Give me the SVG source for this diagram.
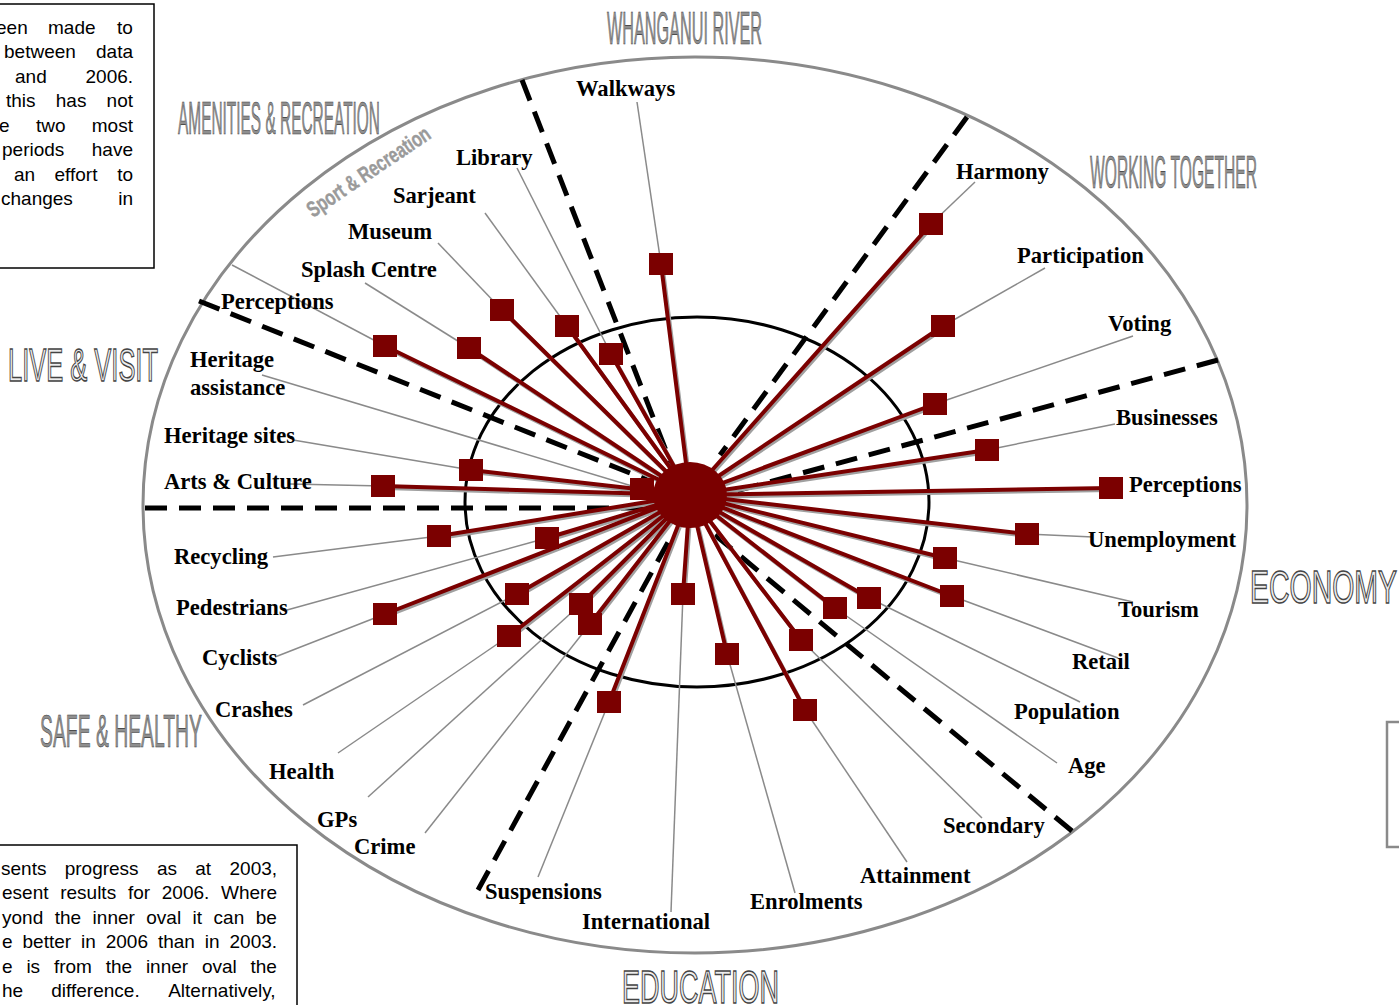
<svg xmlns="http://www.w3.org/2000/svg" width="1399" height="1005" viewBox="0 0 1399 1005">
<style>
.lbl{font-family:"Liberation Serif","Times New Roman",serif;font-weight:bold;font-size:22.6px;fill:#000}
.lead{stroke:#8a8a8a;stroke-width:1.5;fill:none}
.spoke{stroke:#7b0000;stroke-width:4}
.shadow{stroke:#a0a0a0;stroke-width:4}
.sq{fill:#7b0000}
.dash{stroke:#000;stroke-width:5;stroke-dasharray:22 12;fill:none}
.ttl{font-family:"Liberation Sans",Arial,sans-serif;font-size:47px;fill:#8f8f8f;stroke:#333;stroke-width:0.6}
.ttlo{font-family:"Liberation Sans",Arial,sans-serif;font-size:47px;fill:#eee;stroke:#444;stroke-width:1.5}
.body{font-family:"Liberation Sans",Arial,sans-serif;font-size:19px;fill:#000}
</style>
<rect width="1399" height="1005" fill="#fff"/>
<g id="frame">
<ellipse cx="695" cy="505" rx="552" ry="448" fill="none" stroke="#8a8a8a" stroke-width="3"/>
<ellipse cx="697" cy="502" rx="232" ry="185" fill="none" stroke="#000" stroke-width="3"/>
</g>
<g id="notes">
<rect x="-5" y="4" width="159" height="264" fill="none" stroke="#000" stroke-width="1.5"/>
<text class="body"><tspan x="-4" y="34">een</tspan><tspan x="48" y="34">made</tspan><tspan x="117" y="34">to</tspan></text>
<text class="body"><tspan x="4" y="58">between</tspan><tspan x="96" y="58">data</tspan></text>
<text class="body"><tspan x="15" y="83">and</tspan><tspan x="85.5" y="83">2006.</tspan></text>
<text class="body"><tspan x="6" y="107">this</tspan><tspan x="55.8" y="107">has</tspan><tspan x="106.6" y="107">not</tspan></text>
<text class="body"><tspan x="-1" y="132">e</tspan><tspan x="35.9" y="132">two</tspan><tspan x="91.8" y="132">most</tspan></text>
<text class="body"><tspan x="2" y="156">periods</tspan><tspan x="91.8" y="156">have</tspan></text>
<text class="body"><tspan x="14" y="181">an</tspan><tspan x="54.5" y="181">effort</tspan><tspan x="117.2" y="181">to</tspan></text>
<text class="body"><tspan x="1" y="205">changes</tspan><tspan x="118.2" y="205">in</tspan></text>
<rect x="-5" y="845" width="302" height="170" fill="none" stroke="#000" stroke-width="1.5"/>
<text class="body"><tspan x="1" y="875">sents</tspan><tspan x="64.7" y="875">progress</tspan><tspan x="156.9" y="875">as</tspan><tspan x="195.3" y="875">at</tspan><tspan x="229.5" y="875">2003,</tspan></text>
<text class="body"><tspan x="2" y="899">esent</tspan><tspan x="60.2" y="899">results</tspan><tspan x="127.9" y="899">for</tspan><tspan x="161.8" y="899">2006.</tspan><tspan x="221" y="899">Where</tspan></text>
<text class="body"><tspan x="2" y="924">yond</tspan><tspan x="54.7" y="924">the</tspan><tspan x="92.6" y="924">inner</tspan><tspan x="146.3" y="924">oval</tspan><tspan x="192.6" y="924">it</tspan><tspan x="213.6" y="924">can</tspan><tspan x="255.7" y="924">be</tspan></text>
<text class="body"><tspan x="2" y="948">e</tspan><tspan x="22.5" y="948">better</tspan><tspan x="81" y="948">in</tspan><tspan x="105.7" y="948">2006</tspan><tspan x="157.9" y="948">than</tspan><tspan x="204.8" y="948">in</tspan><tspan x="229.5" y="948">2003.</tspan></text>
<text class="body"><tspan x="2" y="973">e</tspan><tspan x="26.4" y="973">is</tspan><tspan x="53.9" y="973">from</tspan><tspan x="105.7" y="973">the</tspan><tspan x="145.9" y="973">inner</tspan><tspan x="201.9" y="973">oval</tspan><tspan x="250.5" y="973">the</tspan></text>
<text class="body"><tspan x="2" y="997">he</tspan><tspan x="51.3" y="997">difference.</tspan><tspan x="168.2" y="997">Alternatively,</tspan></text>
<rect x="1387" y="722" width="20" height="125" fill="none" stroke="#8a8a8a" stroke-width="2.5"/>
</g>
<g id="titles">
<text class="ttl" x="607" y="44" textLength="155" lengthAdjust="spacingAndGlyphs">WHANGANUI RIVER</text>
<text class="ttl" x="178" y="134" textLength="202" lengthAdjust="spacingAndGlyphs">AMENITIES &amp; RECREATION</text>
<text class="ttl" x="1090" y="188" textLength="167" lengthAdjust="spacingAndGlyphs">WORKING TOGETHER</text>
<text class="ttlo" x="8" y="381" textLength="150" lengthAdjust="spacingAndGlyphs">LIVE &amp; VISIT</text>
<text class="ttlo" x="1250" y="603" textLength="147" lengthAdjust="spacingAndGlyphs">ECONOMY</text>
<text class="ttl" x="40" y="747" textLength="162" lengthAdjust="spacingAndGlyphs">SAFE &amp; HEALTHY</text>
<text class="ttlo" x="622" y="1003" textLength="157" lengthAdjust="spacingAndGlyphs">EDUCATION</text>
<text x="313" y="218" transform="rotate(-34 313 218)" textLength="144" lengthAdjust="spacingAndGlyphs" style="font-family:'Liberation Sans',Arial,sans-serif;font-weight:bold;font-size:22px;fill:#9a9a9a;stroke:#9a9a9a;stroke-width:0.4">Sport &amp; Recreation</text>
</g>
<g id="connectors">
<g id="dividers">
<line class="dash" x1="145" y1="508" x2="655" y2="508"/>
<line class="dash" x1="199" y1="301" x2="650" y2="481"/>
<line class="dash" x1="522" y1="80" x2="672" y2="466"/>
<line class="dash" x1="967" y1="117" x2="720" y2="455"/>
<line class="dash" x1="1218" y1="360" x2="725" y2="494"/>
<line class="dash" x1="1072" y1="831" x2="715" y2="535"/>
<line class="dash" x1="478" y1="890" x2="672" y2="535"/>
</g>
<g id="leaders">
<line class="lead" x1="637" y1="102" x2="661" y2="264"/>
<line class="lead" x1="517" y1="168" x2="611" y2="354"/>
<line class="lead" x1="485" y1="213" x2="567" y2="326"/>
<line class="lead" x1="438" y1="243" x2="502" y2="310"/>
<line class="lead" x1="365" y1="283" x2="469" y2="348"/>
<line class="lead" x1="232" y1="265" x2="385" y2="346"/>
<line class="lead" x1="262" y1="375" x2="642" y2="489"/>
<line class="lead" x1="293" y1="440" x2="471" y2="470"/>
<line class="lead" x1="290" y1="484" x2="383" y2="486"/>
<line class="lead" x1="273" y1="557" x2="439" y2="536"/>
<line class="lead" x1="287" y1="610" x2="547" y2="538"/>
<line class="lead" x1="275" y1="657" x2="385" y2="614"/>
<line class="lead" x1="303" y1="705" x2="517" y2="594"/>
<line class="lead" x1="338" y1="753" x2="509" y2="636"/>
<line class="lead" x1="368" y1="797" x2="581" y2="604"/>
<line class="lead" x1="425" y1="833" x2="590" y2="624"/>
<line class="lead" x1="538" y1="877" x2="609" y2="702"/>
<line class="lead" x1="671" y1="912" x2="683" y2="594"/>
<line class="lead" x1="795" y1="893" x2="727" y2="654"/>
<line class="lead" x1="907" y1="862" x2="805" y2="710"/>
<line class="lead" x1="982" y1="818" x2="801" y2="640"/>
<line class="lead" x1="1057" y1="763" x2="835" y2="608"/>
<line class="lead" x1="1080" y1="702" x2="869" y2="598"/>
<line class="lead" x1="1118" y1="658" x2="952" y2="596"/>
<line class="lead" x1="1133" y1="602" x2="945" y2="558"/>
<line class="lead" x1="1093" y1="537" x2="1027" y2="534"/>
<line class="lead" x1="1115" y1="424" x2="987" y2="450"/>
<line class="lead" x1="1133" y1="336" x2="935" y2="404"/>
<line class="lead" x1="1045" y1="268" x2="943" y2="326"/>
<line class="lead" x1="975" y1="182" x2="931" y2="224"/>
</g>
<g id="shadows" transform="translate(1.5 2)">
<path class="shadow" d="M690 495L661 264M690 495L611 354M690 495L567 326M690 495L502 310M690 495L469 348M690 495L385 346M690 495L642 489M690 495L471 470M690 495L383 486M690 495L439 536M690 495L547 538M690 495L385 614M690 495L517 594M690 495L509 636M690 495L581 604M690 495L590 624M690 495L609 702M690 495L683 594M690 495L727 654M690 495L805 710M690 495L801 640M690 495L835 608M690 495L869 598M690 495L952 596M690 495L945 558M690 495L1027 534M690 495L1111 488M690 495L987 450M690 495L935 404M690 495L943 326M690 495L931 224"/>
</g>
<g id="spokes">
<path class="spoke" d="M690 495L661 264M690 495L611 354M690 495L567 326M690 495L502 310M690 495L469 348M690 495L385 346M690 495L642 489M690 495L471 470M690 495L383 486M690 495L439 536M690 495L547 538M690 495L385 614M690 495L517 594M690 495L509 636M690 495L581 604M690 495L590 624M690 495L609 702M690 495L683 594M690 495L727 654M690 495L805 710M690 495L801 640M690 495L835 608M690 495L869 598M690 495L952 596M690 495L945 558M690 495L1027 534M690 495L1111 488M690 495L987 450M690 495L935 404M690 495L943 326M690 495L931 224"/>
</g>
</g>
<g id="hub"><ellipse cx="690" cy="495" rx="37" ry="33" fill="#7b0000"/></g>
<g id="node-walkways"><rect class="sq" x="649" y="253" width="24" height="22"/><text class="lbl" x="576" y="96">Walkways</text></g>
<g id="node-library"><rect class="sq" x="599" y="343" width="24" height="22"/><text class="lbl" x="456" y="165">Library</text></g>
<g id="node-sarjeant"><rect class="sq" x="555" y="315" width="24" height="22"/><text class="lbl" x="393" y="203">Sarjeant</text></g>
<g id="node-museum"><rect class="sq" x="490" y="299" width="24" height="22"/><text class="lbl" x="348" y="239">Museum</text></g>
<g id="node-splash"><rect class="sq" x="457" y="337" width="24" height="22"/><text class="lbl" x="301" y="277">Splash Centre</text></g>
<g id="node-perceptions-live"><rect class="sq" x="373" y="335" width="24" height="22"/><text class="lbl" x="221" y="309">Perceptions</text></g>
<g id="node-heritage-assistance"><rect class="sq" x="630" y="478" width="24" height="22"/><text class="lbl" x="190" y="367">Heritage</text><text class="lbl" x="190" y="395">assistance</text></g>
<g id="node-heritage-sites"><rect class="sq" x="459" y="459" width="24" height="22"/><text class="lbl" x="164" y="443">Heritage sites</text></g>
<g id="node-arts"><rect class="sq" x="371" y="475" width="24" height="22"/><text class="lbl" x="164" y="489">Arts &amp; Culture</text></g>
<g id="node-recycling"><rect class="sq" x="427" y="525" width="24" height="22"/><text class="lbl" x="174" y="564">Recycling</text></g>
<g id="node-pedestrians"><rect class="sq" x="535" y="527" width="24" height="22"/><text class="lbl" x="176" y="615">Pedestrians</text></g>
<g id="node-cyclists"><rect class="sq" x="373" y="603" width="24" height="22"/><text class="lbl" x="202" y="665">Cyclists</text></g>
<g id="node-crashes"><rect class="sq" x="505" y="583" width="24" height="22"/><text class="lbl" x="215" y="717">Crashes</text></g>
<g id="node-health"><rect class="sq" x="497" y="625" width="24" height="22"/><text class="lbl" x="269" y="779">Health</text></g>
<g id="node-gps"><rect class="sq" x="569" y="593" width="24" height="22"/><text class="lbl" x="317" y="827">GPs</text></g>
<g id="node-crime"><rect class="sq" x="578" y="613" width="24" height="22"/><text class="lbl" x="354" y="854">Crime</text></g>
<g id="node-suspensions"><rect class="sq" x="597" y="691" width="24" height="22"/><text class="lbl" x="485" y="899">Suspensions</text></g>
<g id="node-international"><rect class="sq" x="671" y="583" width="24" height="22"/><text class="lbl" x="582" y="929">International</text></g>
<g id="node-enrolments"><rect class="sq" x="715" y="643" width="24" height="22"/><text class="lbl" x="750" y="909">Enrolments</text></g>
<g id="node-attainment"><rect class="sq" x="793" y="699" width="24" height="22"/><text class="lbl" x="860" y="883">Attainment</text></g>
<g id="node-secondary"><rect class="sq" x="789" y="629" width="24" height="22"/><text class="lbl" x="943" y="833">Secondary</text></g>
<g id="node-age"><rect class="sq" x="823" y="597" width="24" height="22"/><text class="lbl" x="1068" y="773">Age</text></g>
<g id="node-population"><rect class="sq" x="857" y="587" width="24" height="22"/><text class="lbl" x="1014" y="719">Population</text></g>
<g id="node-retail"><rect class="sq" x="940" y="585" width="24" height="22"/><text class="lbl" x="1072" y="669">Retail</text></g>
<g id="node-tourism"><rect class="sq" x="933" y="547" width="24" height="22"/><text class="lbl" x="1118" y="617">Tourism</text></g>
<g id="node-unemployment"><rect class="sq" x="1015" y="523" width="24" height="22"/><text class="lbl" x="1088" y="547">Unemployment</text></g>
<g id="node-perceptions-economy"><rect class="sq" x="1099" y="477" width="24" height="22"/><text class="lbl" x="1129" y="492">Perceptions</text></g>
<g id="node-businesses"><rect class="sq" x="975" y="439" width="24" height="22"/><text class="lbl" x="1116" y="425">Businesses</text></g>
<g id="node-voting"><rect class="sq" x="923" y="393" width="24" height="22"/><text class="lbl" x="1108" y="331">Voting</text></g>
<g id="node-participation"><rect class="sq" x="931" y="315" width="24" height="22"/><text class="lbl" x="1017" y="263">Participation</text></g>
<g id="node-harmony"><rect class="sq" x="919" y="213" width="24" height="22"/><text class="lbl" x="956" y="179">Harmony</text></g>
</svg>
